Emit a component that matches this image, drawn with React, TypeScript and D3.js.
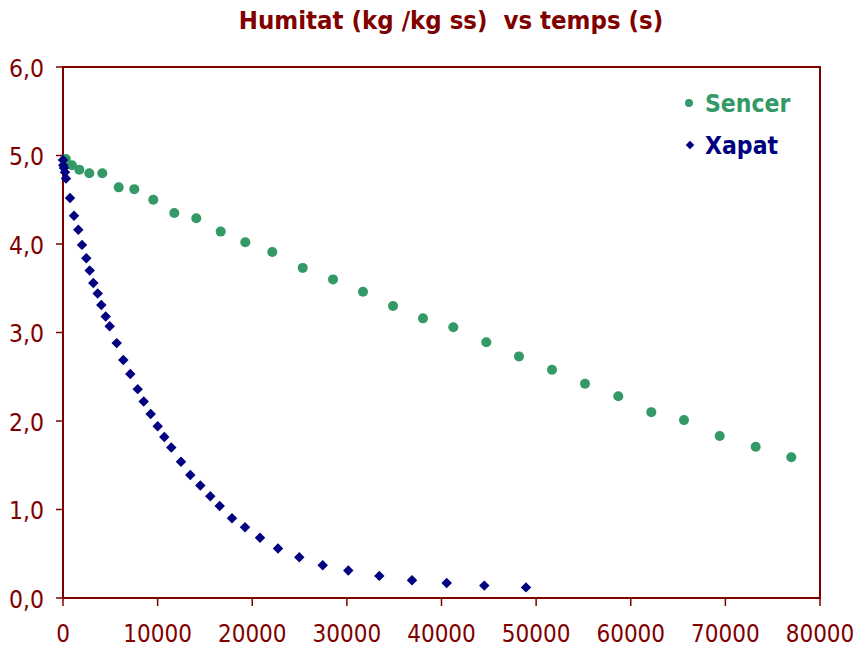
import React from "react";
import * as d3 from "d3";

// Drying curves: moisture content (kg water / kg dry solid) against time (s)
const sencerTime = [300, 951, 1723, 2780, 4153, 5886, 7535, 9543, 11762, 14087, 16666, 19266, 22119, 25332, 28534, 31704, 34875, 38045, 41247, 44735, 48190, 51678, 55165, 58685, 62172, 65628, 69400, 73205, 76967];
const sencerHumitat = [4.96, 4.89, 4.84, 4.80, 4.80, 4.64, 4.62, 4.50, 4.35, 4.29, 4.14, 4.02, 3.91, 3.73, 3.60, 3.46, 3.30, 3.16, 3.06, 2.89, 2.73, 2.58, 2.42, 2.28, 2.10, 2.01, 1.83, 1.71, 1.59];

const xapatTime = [0, 30, 106, 211, 317, 740, 1162, 1617, 2008, 2462, 2822, 3202, 3667, 4048, 4513, 4935, 5675, 6373, 7112, 7894, 8528, 9268, 10008, 10705, 11445, 12470, 13453, 14510, 15566, 16560, 17860, 19234, 20819, 22721, 24972, 27445, 30150, 33427, 36883, 40550, 44523, 48930];
const xapatHumitat = [4.95, 4.89, 4.86, 4.81, 4.74, 4.52, 4.32, 4.16, 3.99, 3.84, 3.70, 3.56, 3.44, 3.31, 3.18, 3.07, 2.88, 2.69, 2.53, 2.36, 2.22, 2.08, 1.94, 1.82, 1.70, 1.54, 1.39, 1.27, 1.15, 1.04, 0.90, 0.80, 0.68, 0.56, 0.46, 0.37, 0.31, 0.25, 0.20, 0.17, 0.14, 0.12];

const xTicks = [0, 10000, 20000, 30000, 40000, 50000, 60000, 70000, 80000];
const yTicks = [0, 1, 2, 3, 4, 5, 6];

const titleText = "Humitat (kg /kg ss)  vs temps (s)";
const seriesNames = ["Sencer", "Xapat"];

const W = 863;
const H = 650;
const M = { left: 63, right: 820, top: 67, bottom: 598 };

const AXIS = "#800000";
const GREEN = "#339966";
const NAVY = "#000080";
const FONT = "'DejaVu Sans Condensed', 'DejaVu Sans', Verdana, sans-serif";

export default function App() {
  const x = d3.scaleLinear().domain([0, 80000]).range([M.left, M.right]);
  const y = d3.scaleLinear().domain([0, 6]).range([M.bottom, M.top]);
  const fmtY = (v: number) => d3.format(".1f")(v).replace(".", ",");

  const circle = d3.symbol().type(d3.symbolCircle).size(Math.PI * 5 * 5)();
  const diamond = d3.symbol().type(d3.symbolSquare).size(7.4 * 7.4)();

  const green = d3.zip(sencerTime, sencerHumitat);
  const navy = d3.zip(xapatTime, xapatHumitat);

  return (
    <svg
      width={W}
      height={H}
      style={{ position: "absolute", left: 0, top: 0, background: "#fff" }}
      fontFamily={FONT}
    >
      <text
        x={451}
        y={29}
        textAnchor="middle"
        fontSize={25.5}
        fontWeight="bold"
        fill={AXIS}
        style={{ whiteSpace: "pre" }}
      >
        {titleText}
      </text>

      {/* plot frame */}
      <rect
        x={M.left}
        y={M.top}
        width={M.right - M.left}
        height={M.bottom - M.top}
        fill="none"
        stroke={AXIS}
        strokeWidth={2}
      />

      {/* y ticks and labels */}
      {yTicks.map((t) => (
        <g key={"y" + t}>
          <line x1={M.left - 7} x2={M.left} y1={y(t)} y2={y(t)} stroke={AXIS} strokeWidth={1.5} />
          <text
            x={44}
            y={y(t) + 9.5}
            textAnchor="end"
            fontSize={24.5}
            fill={AXIS}
          >
            {fmtY(t)}
          </text>
        </g>
      ))}

      {/* x ticks and labels */}
      {xTicks.map((t) => (
        <g key={"x" + t}>
          <line x1={x(t)} x2={x(t)} y1={M.bottom} y2={M.bottom + 8} stroke={AXIS} strokeWidth={1.5} />
          <text x={x(t)} y={642} textAnchor="middle" fontSize={24} fill={AXIS}>
            {t}
          </text>
        </g>
      ))}

      {/* Sencer series */}
      {green.map(([t, v], i) => (
        <path key={"s" + i} d={circle ?? ""} transform={`translate(${x(t)},${y(v)})`} fill={GREEN} />
      ))}

      {/* Xapat series */}
      {navy.map(([t, v], i) => (
        <path key={"x" + i} d={diamond ?? ""} transform={`translate(${x(t)},${y(v)}) rotate(45)`} fill={NAVY} />
      ))}

      {/* legend */}
      <g>
        <path d={d3.symbol().type(d3.symbolCircle).size(Math.PI * 4 * 4)() ?? ""} transform="translate(689,103)" fill={GREEN} />
        <text x={705} y={111.5} fontSize={24.5} fontWeight="bold" fill={GREEN}>
          {seriesNames[0]}
        </text>
        <path d={d3.symbol().type(d3.symbolSquare).size(6 * 6)() ?? ""} transform="translate(690,145) rotate(45)" fill={NAVY} />
        <text x={705} y={153.5} fontSize={24.5} fontWeight="bold" fill={NAVY}>
          {seriesNames[1]}
        </text>
      </g>
    </svg>
  );
}
